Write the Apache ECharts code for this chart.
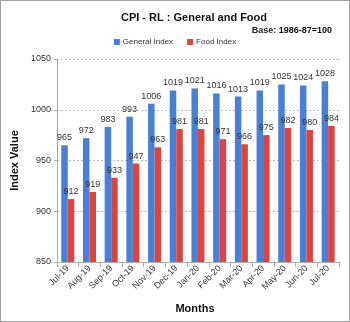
<!DOCTYPE html>
<html><head><meta charset="utf-8">
<script src="https://cdn.jsdelivr.net/npm/echarts@6/dist/echarts.min.js"></script>
<style>html,body{margin:0;padding:0;background:#fff}#c{width:348px;height:320px;border:1px solid #a0a0a0}</style>
</head><body><div id="c"></div>
<script>
const categories = ['Jul-19','Aug-19','Sep-19','Oct-19','Nov-19','Dec-19','Jan-20','Feb-20','Mar-20','Apr-20','May-20','Jun-20','Jul-20'];
const generalIndex = [965,972,983,993,1006,1019,1021,1016,1013,1019,1025,1024,1028];
const foodIndex = [912,919,933,947,963,981,981,971,966,975,982,980,984];
const yTicks = {min:850, max:1050, interval:50};
const F = 'Liberation Sans, Arial, sans-serif';
const chart = echarts.init(document.getElementById('c'));
const lbl = {show:true, position:'top', distance:3, fontSize:9, color:'#333', fontFamily:F};
chart.setOption({
  animation:false,
  title:[{text:'CPI - RL : General and Food', left:188, top:6, textAlign:'center',
          textStyle:{fontSize:11, fontWeight:'bold', color:'#111', fontFamily:F}},
         {text:'{n|Base: }{b|1986-87=100}', right:12, top:20,
          textStyle:{rich:{n:{fontSize:9,color:'#222',fontFamily:F},b:{fontSize:9,fontWeight:'bold',color:'#111',fontFamily:F}}}}],
  legend:{top:32, left:'center', itemWidth:6, itemHeight:6, itemGap:14, icon:'rect',
          textStyle:{fontSize:8, color:'#333', fontFamily:F, padding:[0,0,0,-2]}},
  grid:{left:51, right:10, top:58, bottom:59},
  xAxis:{type:'category', data:categories, name:'Months', nameLocation:'middle', nameGap:41,
         nameTextStyle:{fontSize:11, fontWeight:'bold', color:'#111', fontFamily:F, padding:[0,0,0,-6]},
         axisLine:{lineStyle:{color:'#aaa'}}, axisTick:{show:true, lineStyle:{color:'#aaa'}},
         axisLabel:{rotate:45, fontSize:9, color:'#333', fontFamily:F, interval:0, margin:5}},
  yAxis:{type:'value', min:yTicks.min, max:yTicks.max, interval:yTicks.interval,
         name:'Index Value', nameLocation:'middle', nameGap:30,
         nameTextStyle:{fontSize:11, fontWeight:'bold', color:'#111', fontFamily:F},
         axisLine:{show:true, lineStyle:{color:'#aaa'}}, axisTick:{show:true, length:3, lineStyle:{color:'#aaa'}},
         axisLabel:{fontSize:9, color:'#333', fontFamily:F, margin:6, formatter:v=>String(v)},
         splitLine:{lineStyle:{color:'#bbb', type:[2,2]}}},
  series:[
    {name:'General Index', type:'bar', data:generalIndex, barWidth:'30%', barGap:'0%',
     itemStyle:{color:'#4a7fd6'}, label:lbl},
    {name:'Food Index', type:'bar', data:foodIndex, barWidth:'30%',
     itemStyle:{color:'#dc4440'}, label:lbl}
  ]
});
</script></body></html>
